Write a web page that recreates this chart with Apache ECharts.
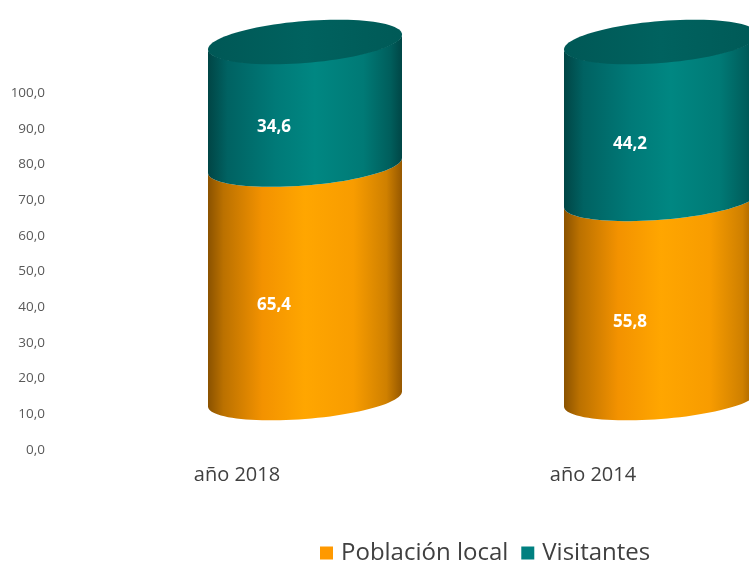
<!DOCTYPE html>
<html>
<head>
<meta charset="utf-8">
<script src="https://cdn.jsdelivr.net/npm/echarts@6/dist/echarts.min.js"></script>
<style>html,body{margin:0;padding:0;background:#fff}#c{width:749px;height:562px}</style>
</head>
<body>
<div id="c"></div>
<script>
const categories = ['año 2018', 'año 2014'];
const poblacionLocal = [65.4, 55.8];
const visitantes = [34.6, 44.2];
const seriesNames = ['Población local', 'Visitantes'];

const fmt = v => v.toFixed(1).replace('.', ',');

const orangeGrad = () => new echarts.graphic.LinearGradient(0, 0, 1, 0, [
  {offset: 0, color: '#8a5200'}, {offset: 0.08, color: '#bb7100'},
  {offset: 0.28, color: '#f39200'}, {offset: 0.5, color: '#ffa600'},
  {offset: 0.75, color: '#f89c00'}, {offset: 0.92, color: '#cf8000'},
  {offset: 1, color: '#965800'}]);
const tealGrad = () => new echarts.graphic.LinearGradient(0, 0, 1, 0, [
  {offset: 0, color: '#004545'}, {offset: 0.1, color: '#006262'},
  {offset: 0.35, color: '#007a78'}, {offset: 0.55, color: '#008782'},
  {offset: 0.8, color: '#007a76'}, {offset: 0.94, color: '#005e5c'},
  {offset: 1, color: '#004646'}]);
const topGrad = () => new echarts.graphic.LinearGradient(0, 0, 1, 0, [
  {offset: 0, color: '#005856'}, {offset: 0.5, color: '#00625f'},
  {offset: 1, color: '#005a57'}]);

function makeRender(gradFn, isTop) {
  return function (params, api) {
    const i = api.value(0), v0 = api.value(1), v1 = api.value(2);
    const p0 = api.coord([i, v0]), p1 = api.coord([i, v1]);
    const cx = p0[0] + 68, A = 97, kA = -7.5, B = 20, dy = -51;
    const yb = p0[1] + dy, yt = p1[1] + dy;
    const N = 48;
    const pts = [];
    for (let k = 0; k <= N; k++) {
      const t = Math.PI - Math.PI * k / N;
      pts.push([cx + A * Math.cos(t), yb + kA * Math.cos(t) + B * Math.sin(t)]);
    }
    for (let k = 0; k <= N; k++) {
      const t = Math.PI * k / N;
      pts.push([cx + A * Math.cos(t), yt + kA * Math.cos(t) + B * Math.sin(t)]);
    }
    const children = [{type: 'polygon', shape: {points: pts}, style: {fill: gradFn()}}];
    if (isTop) {
      const tp = [];
      for (let k = 0; k < 2 * N; k++) {
        const t = 2 * Math.PI * k / (2 * N);
        tp.push([cx + A * Math.cos(t), yt + kA * Math.cos(t) + (B + 1) * Math.sin(t)]);
      }
      children.push({type: 'polygon', shape: {points: tp}, style: {fill: topGrad()}});
    }
    children.push({
      type: 'text', x: p0[0] + 37, y: (p0[1] + p1[1]) / 2 - 28,
      style: {text: fmt(v1 - v0), fill: '#ffffff', font: 'bold 17px "Open Sans"', align: 'center', verticalAlign: 'middle'}
    });
    return {type: 'group', children};
  };
}

const localData = categories.map((c, i) => [i, 0, poblacionLocal[i]]);
const visData = categories.map((c, i) => [i, poblacionLocal[i], poblacionLocal[i] + visitantes[i]]);

const chart = echarts.init(document.getElementById('c'), null, {renderer: 'canvas'});
chart.setOption({
  animation: false,
  backgroundColor: '#ffffff',
  grid: {left: 59, top: 93, height: 357, width: 712, outerBoundsMode: 'none', containLabel: false},
  xAxis: {
    type: 'category', data: categories,
    axisLine: {show: false}, axisTick: {show: false},
    axisLabel: {color: '#404040', fontFamily: 'Open Sans', fontSize: 20, margin: 15}
  },
  yAxis: {
    type: 'value', min: 0, max: 100, interval: 10,
    axisLine: {show: false}, axisTick: {show: false}, splitLine: {show: false},
    axisLabel: {color: '#595959', fontFamily: 'Open Sans', fontSize: 13.5, margin: 14, formatter: fmt}
  },
  legend: {
    left: 315, top: 536, itemWidth: 13, itemHeight: 13, itemGap: 13,
    icon: 'rect',
    textStyle: {color: '#404040', fontFamily: 'Open Sans', fontSize: 24, padding: [0, 0, 0, 3]},
    data: seriesNames
  },
  series: [
    {type: 'custom', name: seriesNames[0], renderItem: makeRender(orangeGrad, false), data: localData,
     itemStyle: {color: '#FF9900'}, encode: {x: 0, y: [1, 2]}, clip: false},
    {type: 'custom', name: seriesNames[1], renderItem: makeRender(tealGrad, true), data: visData,
     itemStyle: {color: '#008080'}, encode: {x: 0, y: [1, 2]}, clip: false}
  ]
});
</script>
</body>
</html>
